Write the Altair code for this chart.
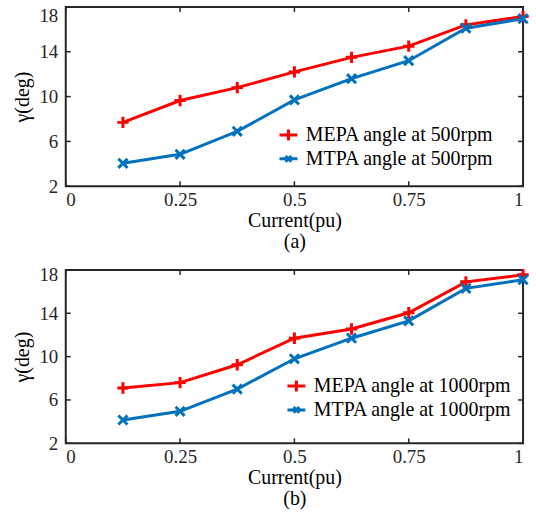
import altair as alt
import pandas as pd

current = [0.125, 0.25, 0.375, 0.5, 0.625, 0.75, 0.875, 1.0]
mepa_500 = [7.7, 9.65, 10.8, 12.2, 13.5, 14.5, 16.4, 17.15]
mtpa_500 = [4.05, 4.85, 6.9, 9.7, 11.6, 13.2, 16.1, 16.95]
mepa_1000 = [7.1, 7.6, 9.25, 11.7, 12.55, 14.05, 16.9, 17.55]
mtpa_1000 = [4.15, 4.95, 7.0, 9.8, 11.7, 13.3, 16.3, 17.1]
x_ticks = [0, 0.25, 0.5, 0.75, 1]
y_ticks = [2, 6, 10, 14, 18]

RED = "#FF0000"
BLUE = "#0072BD"
FONT = "Liberation Serif"
INK = "#262626"

PLUS = "M-1,0L1,0M0,-1L0,1"
CROSS = "M-0.8,-0.8L0.8,0.8M-0.8,0.8L0.8,-0.8"
LEG_PLUS = "M-1,0L1,0M0,-0.62L0,0.62"
LEG_CROSS = "M-1,0L1,0M-0.32,-0.32L0.32,0.32M-0.32,0.32L0.32,-0.32"

W = 459


def panel(mepa, mtpa, rpm, height, lx, ly, caption, top_off):
    s1 = f"MEPA angle at {rpm}rpm"
    s2 = f"MTPA angle at {rpm}rpm"
    df = pd.DataFrame({
        "x": current * 2,
        "y": mepa + mtpa,
        "series": [s1] * len(current) + [s2] * len(current),
    })
    dom = [s1, s2]
    xs = alt.Scale(domain=[0, 1], nice=False)
    ys = alt.Scale(domain=[2, 18], nice=False, zero=False)
    X = alt.X("x:Q", scale=xs, axis=alt.Axis(
        values=x_ticks, format=".2~f", title=["Current(pu)", caption],
        titleLineHeight=21, titlePadding=1, labelPadding=4,
        titleBaseline="top", labelFont=FONT, titleFont=FONT))
    Y = alt.Y("y:Q", scale=ys, axis=alt.Axis(
        values=y_ticks, format="d", title="γ(deg)", labelPadding=8,
        titlePadding=6, labelFont=FONT, titleFont=FONT,
        labelOffset=alt.condition("datum.value == 18", alt.value(top_off), alt.value(0))))
    base = alt.Chart(df)
    line = base.mark_line(strokeWidth=3).encode(
        x=X, y=Y,
        color=alt.Color("series:N", scale=alt.Scale(domain=dom, range=[RED, BLUE]), legend=None),
    )
    pts = base.mark_point(filled=False, strokeWidth=3, size=130, opacity=1).encode(
        x="x:Q", y="y:Q",
        color=alt.Color("series:N", scale=alt.Scale(domain=dom, range=[RED, BLUE]), legend=None),
        shape=alt.Shape("series:N", scale=alt.Scale(domain=dom, range=[PLUS, CROSS]), legend=None),
    )
    leg = alt.Legend(orient="none", legendX=lx, legendY=ly, title=None,
                     labelFont=FONT, labelFontSize=20, labelColor="#000000", labelLimit=400,
                     symbolSize=324, symbolStrokeWidth=3, symbolOpacity=1,
                     padding=0, rowPadding=1, labelOffset=7)
    legl = base.mark_point(filled=False, strokeWidth=3, opacity=0).encode(
        x="x:Q", y="y:Q",
        color=alt.Color("series:N", scale=alt.Scale(domain=dom, range=[RED, BLUE]), legend=leg),
        shape=alt.Shape("series:N", scale=alt.Scale(domain=dom, range=[LEG_PLUS, LEG_CROSS]), legend=leg),
    )
    xt = pd.DataFrame({"t": x_ticks})
    yt = pd.DataFrame({"t": y_ticks})
    tick_style = dict(color=INK, strokeWidth=1.5)
    xb = alt.Chart(xt).mark_rule(**tick_style).encode(x="t:Q", y=alt.value(height), y2=alt.value(height - 5))
    xtop = alt.Chart(xt).mark_rule(**tick_style).encode(x="t:Q", y=alt.value(0), y2=alt.value(5))
    yl = alt.Chart(yt).mark_rule(**tick_style).encode(y="t:Q", x=alt.value(0), x2=alt.value(5))
    yr = alt.Chart(yt).mark_rule(**tick_style).encode(y="t:Q", x=alt.value(W), x2=alt.value(W - 5))
    return alt.layer(line, xb, xtop, yl, yr, pts, legl).resolve_scale(
        color="independent", shape="independent"
    ).properties(width=W, height=height)


top = panel(mepa_500, mtpa_500, 500, 180, 213, 118, "(a)", 9)
bot = panel(mepa_1000, mtpa_1000, 1000, 174, 221, 106, "(b)", 4.5)

chart = alt.vconcat(top, bot, spacing=10).properties(
    padding={"left": 12, "top": 2, "right": 0, "bottom": 0},
    background="white",
).configure(font=FONT).configure_view(stroke=INK, strokeWidth=2).configure_axis(
    grid=False, ticks=False, domain=False,
    labelFont=FONT, labelFontSize=19, labelColor=INK,
    titleFont=FONT, titleFontSize=20, titleColor="#000000", titleFontWeight="normal",
)

chart.save("out.html", embed_options={"renderer": "svg", "actions": False})
